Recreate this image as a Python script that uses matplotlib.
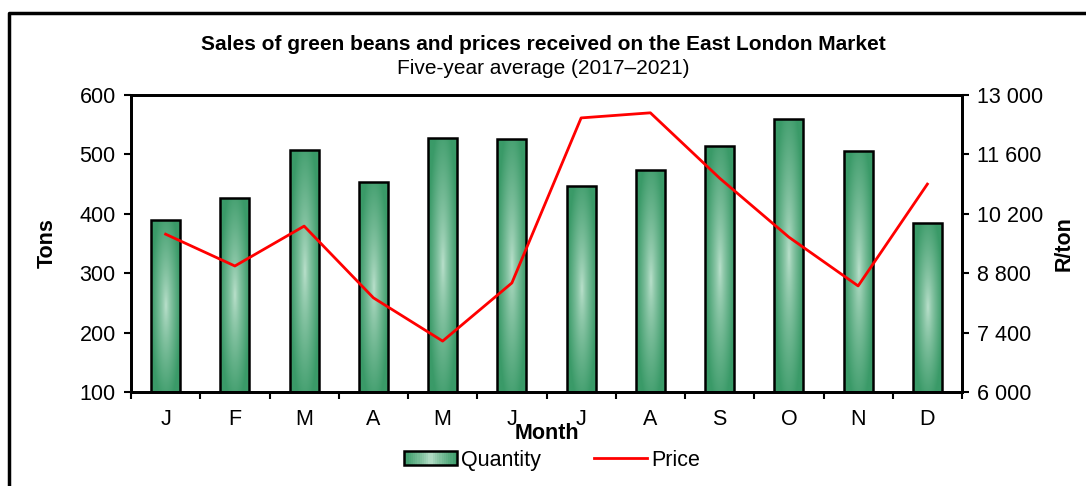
import numpy as np
import matplotlib
matplotlib.use("Agg")
import matplotlib.pyplot as plt
from matplotlib.lines import Line2D
from matplotlib.patches import Rectangle
from matplotlib.legend_handler import HandlerPatch
from matplotlib.colors import LinearSegmentedColormap
from matplotlib.ticker import FuncFormatter, FixedLocator, MultipleLocator

plt.rcParams['font.family'] = ['Liberation Sans', 'DejaVu Sans']

months = ['J', 'F', 'M', 'A', 'M', 'J', 'J', 'A', 'S', 'O', 'N', 'D']
quantity = [390, 426, 507, 453, 528, 526, 447, 474, 514, 560, 506, 385]
price = [9720, 8970, 9910, 8220, 7200, 8570, 12460, 12580, 11040, 9650, 8500, 10900]

DARK = '#3a9a68'
LIGHT = '#b8dfca'
green_cmap = LinearSegmentedColormap.from_list('bean', [LIGHT, DARK])
FS = 15.5


def bar_gradient(n=80):
    # light in the middle, dark towards the edges and ends
    xx, yy = np.meshgrid(np.linspace(-1, 1, n), np.linspace(-1, 1, n))
    r = np.sqrt(xx ** 2 + (yy * 0.85) ** 2)
    return np.clip(r, 0, 1) ** 0.75


class GradientHandler(HandlerPatch):
    def create_artists(self, legend, orig_handle, xdescent, ydescent,
                       width, height, fontsize, trans):
        arts = []
        n = 24
        for i in range(n):
            t = abs((i + 0.5) / n * 2 - 1) ** 0.8
            r = Rectangle((-xdescent + width * i / n, -ydescent), width / n + 0.3, height,
                          facecolor=green_cmap(t), edgecolor='none', transform=trans)
            arts.append(r)
        arts.append(Rectangle((-xdescent, -ydescent), width, height, facecolor='none',
                              edgecolor='black', lw=1.8, transform=trans))
        return arts


fig = plt.figure(figsize=(10.86, 4.86), dpi=100)
ax = fig.add_axes([131 / 1086, 1 - 392 / 486, (962 - 131) / 1086, (392 - 95) / 486])

x = np.arange(len(months))
bars = ax.bar(x, quantity, width=0.42, bottom=0, facecolor='none', edgecolor='black',
              linewidth=1.8, zorder=3)
grad = bar_gradient()
for b in bars:
    x0, x1 = b.get_x(), b.get_x() + b.get_width()
    im = ax.imshow(grad, cmap=green_cmap, extent=[x0, x1, 100, b.get_height()], aspect='auto',
                   origin='lower', zorder=2, interpolation='bilinear')
    im.set_clip_path(b)

ax.set_xlim(-0.5, 11.5)
ax.set_ylim(100, 600)
ax.yaxis.set_major_locator(MultipleLocator(100))
ax.set_xticks(x)
ax.set_xticklabels(months)
ax.set_xticks(np.arange(-0.5, 12, 1), minor=True)
ax.tick_params(axis='x', which='major', length=0, pad=12, labelsize=FS)
ax.tick_params(axis='x', which='minor', length=5, width=1.5, direction='out')
ax.tick_params(axis='y', length=5, width=1.5, direction='out', labelsize=FS, pad=6)
for s in ax.spines.values():
    s.set_linewidth(2)
ax.set_ylabel('Tons', fontsize=FS, fontweight='bold', labelpad=16)
ax.set_xlabel('Month', fontsize=FS, fontweight='bold', labelpad=-5)

ax2 = ax.twinx()
ax2.plot(x, price, color='#ff0000', lw=2, zorder=4)
ax2.set_ylim(6000, 13000)
ax2.yaxis.set_major_locator(FixedLocator(np.arange(6000, 13001, 1400)))
ax2.yaxis.set_major_formatter(FuncFormatter(lambda v, p: f'{int(v):,}'.replace(',', ' ')))
ax2.tick_params(axis='y', length=5, width=1.5, direction='out', labelsize=FS, pad=6)
for s in ax2.spines.values():
    s.set_linewidth(2)
ax2.set_ylabel('R/ton', fontsize=FS, fontweight='bold', labelpad=7)

fig.text(0.5, 1 - 44 / 486, 'Sales of green beans and prices received on the East London Market',
         ha='center', va='center', fontsize=15, fontweight='bold')
fig.text(0.5, 1 - 68 / 486, 'Five-year average (2017\u20132021)', ha='center', va='center', fontsize=15)

handles = [Rectangle((0, 0), 1, 1), Line2D([], [], color='#ff0000', lw=2)]
fig.legend(handles, ['Quantity', 'Price'], loc='center', bbox_to_anchor=(552 / 1086, 1 - 460 / 486),
           ncol=2, frameon=False, fontsize=FS, handlelength=2.45, handleheight=0.6,
           columnspacing=2.45, handletextpad=0.2,
           handler_map={Rectangle: GradientHandler()})

# outer chart frame (only left and top visible in the crop)
fig.add_artist(Line2D([9 / 1086, 9 / 1086, 1.01], [-0.01, 1 - 13 / 486, 1 - 13 / 486],
                      transform=fig.transFigure, color='black', lw=2.5))

fig.savefig('out.png', dpi=100)
